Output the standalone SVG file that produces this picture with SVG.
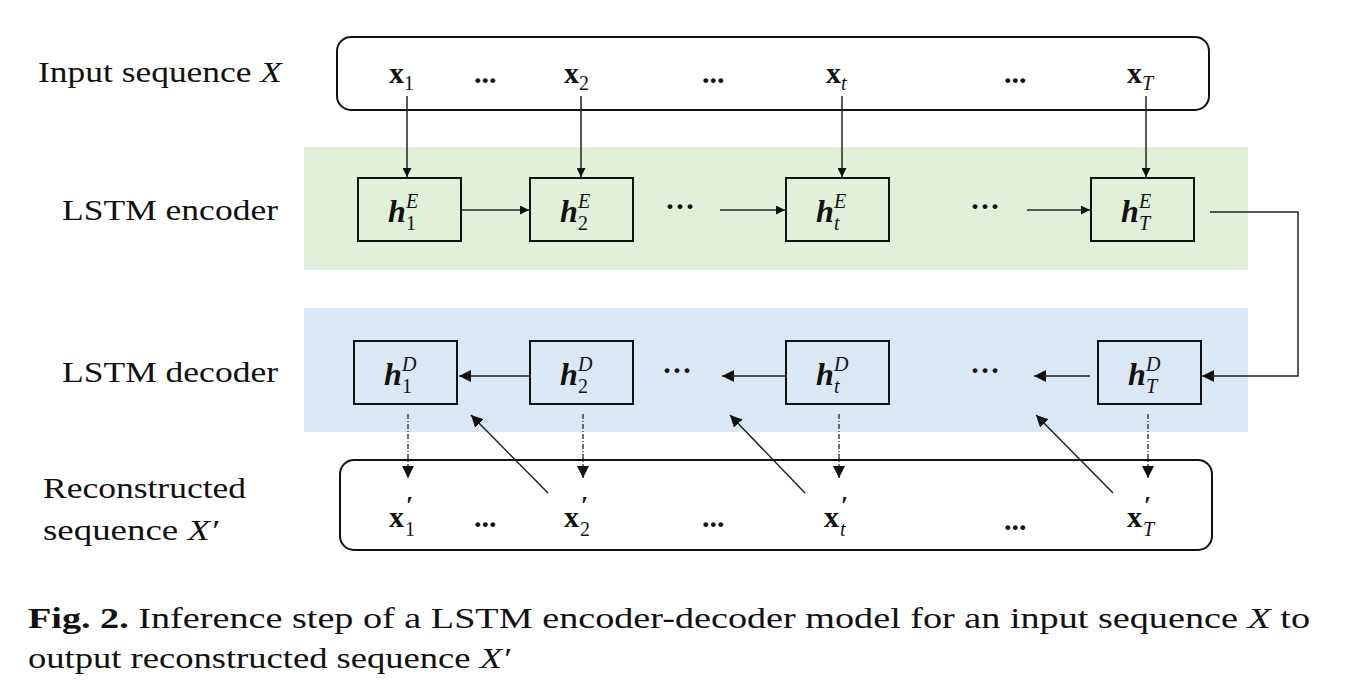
<svg xmlns="http://www.w3.org/2000/svg" width="1350" height="693" viewBox="0 0 1350 693">
<style>
text{font-family:"Liberation Serif","DejaVu Serif",serif;fill:#111}
.lab{font-size:30px}
.v{font-size:30px;font-weight:bold}
.h{font-size:32px;font-weight:bold;font-style:italic}
.s{font-size:20px;font-style:italic;font-weight:normal}
.sn{font-size:20px;font-weight:normal}
.p{font-size:26px;font-weight:bold}
.node{fill:none;stroke:#111;stroke-width:2}
.ln{stroke:#222;stroke-width:1.5;fill:none}
.ds{stroke:#444;stroke-width:1.5;fill:none;stroke-dasharray:5 2 1 2}
.cap{font-size:30px}
</style>
<defs>
<marker id="a" viewBox="0 0 10 10" refX="10" refY="5" markerWidth="9" markerHeight="9" markerUnits="userSpaceOnUse" orient="auto"><path d="M0,0L10,5L0,10z" fill="#111"/></marker>
<marker id="b" viewBox="0 0 10 10" refX="10" refY="5" markerWidth="12" markerHeight="12" markerUnits="userSpaceOnUse" orient="auto"><path d="M0,0L10,5L0,10z" fill="#111"/></marker>
</defs>
<rect x="304" y="147" width="944" height="123" fill="#e2efda"/>
<rect x="304" y="308" width="944" height="124" fill="#dce7f4"/>
<g id="labels">
<text class="lab" x="38" y="82" textLength="244" lengthAdjust="spacingAndGlyphs">Input sequence <tspan font-style="italic">X</tspan></text>
<text class="lab" x="62" y="220" textLength="216" lengthAdjust="spacingAndGlyphs">LSTM encoder</text>
<text class="lab" x="62" y="382" textLength="216" lengthAdjust="spacingAndGlyphs">LSTM decoder</text>
<text class="lab" x="43" y="498" textLength="203" lengthAdjust="spacingAndGlyphs">Reconstructed</text>
<text class="lab" x="43" y="540" textLength="175" lengthAdjust="spacingAndGlyphs">sequence <tspan font-style="italic">X′</tspan></text>
</g>
<g id="input">
<rect class="node" x="337" y="37" width="872" height="73" rx="14"/>
<text class="v" x="389" y="83">x<tspan class="sn" dy="7">1</tspan></text>
<text class="v" x="564" y="83">x<tspan class="sn" dy="7">2</tspan></text>
<text class="v" x="826" y="83">x<tspan class="s" dy="7">t</tspan></text>
<text class="v" x="1127" y="83">x<tspan class="s" dy="7">T</tspan></text>
<text class="v" x="474" y="83" font-size="20">...</text>
<text class="v" x="702" y="83" font-size="20">...</text>
<text class="v" x="1004" y="83" font-size="20">...</text>
</g>
<g id="encoder">
<g id="hE1"><rect class="node" x="358" y="178" width="103" height="63"/><text class="h" x="388" y="222">h</text><text class="s" x="406" y="208">E</text><text class="sn" x="406" y="230">1</text></g>
<g id="hE2"><rect class="node" x="530" y="178" width="103" height="63"/><text class="h" x="560" y="222">h</text><text class="s" x="578" y="208">E</text><text class="sn" x="578" y="230">2</text></g>
<g id="hEt"><rect class="node" x="786" y="178" width="103" height="63"/><text class="h" x="816" y="222">h</text><text class="s" x="834" y="208">E</text><text class="s" x="834" y="230">t</text></g>
<g id="hET"><rect class="node" x="1091" y="178" width="103" height="63"/><text class="h" x="1121" y="222">h</text><text class="s" x="1139" y="208">E</text><text class="s" x="1139" y="230">T</text></g>
<text class="v" x="665" y="216" font-size="22">···</text>
<text class="v" x="970" y="216" font-size="22">···</text>
</g>
<g id="decoder">
<g id="hD1"><rect class="node" x="354" y="341" width="103" height="63"/><text class="h" x="384" y="385">h</text><text class="s" x="402" y="371">D</text><text class="sn" x="402" y="393">1</text></g>
<g id="hD2"><rect class="node" x="530" y="341" width="103" height="63"/><text class="h" x="560" y="385">h</text><text class="s" x="578" y="371">D</text><text class="sn" x="578" y="393">2</text></g>
<g id="hDt"><rect class="node" x="786" y="341" width="103" height="63"/><text class="h" x="816" y="385">h</text><text class="s" x="834" y="371">D</text><text class="s" x="834" y="393">t</text></g>
<g id="hDT"><rect class="node" x="1098" y="341" width="103" height="63"/><text class="h" x="1128" y="385">h</text><text class="s" x="1146" y="371">D</text><text class="s" x="1146" y="393">T</text></g>
<text class="v" x="662" y="380" font-size="22">···</text>
<text class="v" x="970" y="380" font-size="22">···</text>
</g>
<g id="output">
<rect class="node" x="340" y="460" width="872" height="90" rx="14"/>
<text class="v" x="389" y="527">x</text><text class="p" x="406" y="514">′</text><text class="sn" x="405" y="536">1</text>
<text class="v" x="564" y="527">x</text><text class="p" x="581" y="514">′</text><text class="sn" x="580" y="536">2</text>
<text class="v" x="824" y="527">x</text><text class="p" x="841" y="514">′</text><text class="s" x="840" y="536">t</text>
<text class="v" x="1127" y="527">x</text><text class="p" x="1144" y="514">′</text><text class="s" x="1143" y="536">T</text>
<text class="v" x="474" y="527" font-size="20">...</text>
<text class="v" x="702" y="527" font-size="20">...</text>
<text class="v" x="1004" y="530" font-size="22">...</text>
</g>
<g id="connectors">
<line class="ln" x1="407" y1="96" x2="407" y2="177" marker-end="url(#a)"/>
<line class="ln" x1="581" y1="96" x2="581" y2="177" marker-end="url(#a)"/>
<line class="ln" x1="842" y1="96" x2="842" y2="177" marker-end="url(#a)"/>
<line class="ln" x1="1146" y1="96" x2="1146" y2="177" marker-end="url(#a)"/>
<line class="ln" x1="462" y1="210" x2="529" y2="210" marker-end="url(#a)"/>
<line class="ln" x1="720" y1="210" x2="785" y2="210" marker-end="url(#a)"/>
<line class="ln" x1="1027" y1="210" x2="1090" y2="210" marker-end="url(#a)"/>
<polyline class="ln" points="1210,212 1298,212 1298,376 1202,376" marker-end="url(#b)"/>
<line class="ln" x1="1090" y1="376" x2="1034" y2="376" marker-end="url(#b)"/>
<line class="ln" x1="785" y1="376" x2="722" y2="376" marker-end="url(#b)"/>
<line class="ln" x1="529" y1="376" x2="459" y2="376" marker-end="url(#b)"/>
<line class="ds" x1="408" y1="414" x2="408" y2="478" marker-end="url(#b)"/>
<line class="ds" x1="583" y1="414" x2="583" y2="478" marker-end="url(#b)"/>
<line class="ds" x1="839" y1="414" x2="839" y2="478" marker-end="url(#b)"/>
<line class="ds" x1="1148" y1="414" x2="1148" y2="478" marker-end="url(#b)"/>
<line class="ln" x1="548" y1="493" x2="471" y2="415" marker-end="url(#b)"/>
<line class="ln" x1="805" y1="493" x2="730" y2="415" marker-end="url(#b)"/>
<line class="ln" x1="1113" y1="493" x2="1036" y2="415" marker-end="url(#b)"/>
</g>
<g id="caption">
<text class="cap" x="28" y="628" textLength="1282" lengthAdjust="spacingAndGlyphs"><tspan font-weight="bold">Fig. 2.</tspan> Inference step of a LSTM encoder-decoder model for an input sequence <tspan font-style="italic">X</tspan> to</text>
<text class="cap" x="28" y="668" textLength="482" lengthAdjust="spacingAndGlyphs">output reconstructed sequence <tspan font-style="italic">X′</tspan></text>
</g>
</svg>
